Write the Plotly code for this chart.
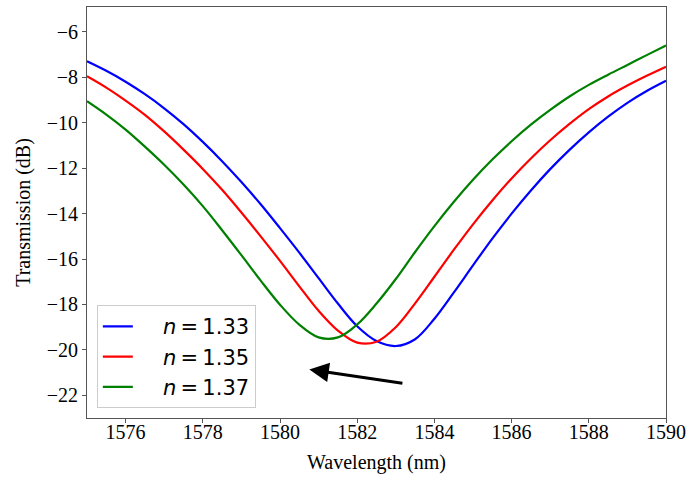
import plotly.graph_objects as go

# Wavelength grid (nm)
wavelength = [1575.0 + 0.5 * i for i in range(31)]

# Transmission spectra (dB) for three surrounding refractive indices
t_133 = [-7.29, -7.71, -8.19, -8.74, -9.36, -10.06, -10.84, -11.69, -12.61, -13.59,
         -14.64, -15.72, -16.84, -17.96, -18.96, -19.61, -19.83, -19.53, -18.63, -17.48,
         -16.28, -15.10, -14.00, -12.98, -12.04, -11.19, -10.42, -9.73, -9.12, -8.60, -8.15]
t_135 = [-7.95, -8.45, -9.02, -9.65, -10.38, -11.18, -12.03, -12.95, -13.95, -15.00,
         -16.08, -17.20, -18.28, -19.15, -19.68, -19.64, -19.00, -17.95, -16.78, -15.60,
         -14.47, -13.42, -12.45, -11.57, -10.77, -10.05, -9.40, -8.84, -8.36, -7.93, -7.53]
t_137 = [-9.05, -9.64, -10.30, -11.05, -11.85, -12.72, -13.67, -14.73, -15.83, -16.95,
         -18.01, -18.89, -19.45, -19.45, -18.88, -17.96, -16.88, -15.69, -14.55, -13.49,
         -12.51, -11.62, -10.81, -10.08, -9.43, -8.84, -8.33, -7.88, -7.45, -7.02, -6.60]

index_labels = ["1.33", "1.35", "1.37"]
colors = ["#0000ff", "#ff0000", "#008000"]
spectra = [t_133, t_135, t_137]

x_ticks = [1576, 1578, 1580, 1582, 1584, 1586, 1588, 1590]
y_ticks = [-22, -20, -18, -16, -14, -12, -10, -8, -6]

# Shift arrow (tail -> head), in data units
arrow_tail = (1583.21, -21.48)
arrow_head = (1580.76, -20.86)

fig = go.Figure()
for label, vals, color in zip(index_labels, spectra, colors):
    fig.add_trace(go.Scatter(
        x=wavelength, y=vals, mode="lines",
        name="\u2003\u2009<i>n</i>\u2009=\u2009" + label,
        line=dict(color=color, width=2.2, shape="spline", smoothing=1.0),
    ))

serif = "Liberation Serif, Times New Roman, serif"
axis_common = dict(
    showline=True, linecolor="#555555", linewidth=1, mirror=True,
    ticks="outside", ticklen=4, tickcolor="#555555", showgrid=False, zeroline=False,
    tickfont=dict(family=serif, size=20, color="black"),
    automargin=False,
)

fig.update_layout(
    width=689, height=479,
    margin=dict(l=87, r=23, t=7, b=61),
    paper_bgcolor="white", plot_bgcolor="white",
    xaxis=dict(range=[1575, 1590], tickvals=x_ticks,
               ticktext=[str(v) for v in x_ticks],
               ticklabelposition="outside", ticklabelstandoff=-8,
               title=dict(text="Wavelength (nm)", font=dict(family=serif, size=20, color="black"),
                          standoff=12),
               **axis_common),
    yaxis=dict(range=[-23, -4.9], tickvals=y_ticks,
               ticktext=["\u2212" + str(abs(v)) for v in y_ticks],
               title=dict(text="Transmission (dB)", font=dict(family=serif, size=20, color="black"),
                          standoff=10),
               **axis_common),
    legend=dict(
        x=0.017, y=0.024, xanchor="left", yanchor="bottom",
        bgcolor="rgba(255,255,255,0.9)", bordercolor="#cccccc", borderwidth=1,
        font=dict(family="DejaVu Sans", size=21, color="black"),
        tracegroupgap=0,
    ),
    showlegend=True,
)

fig.add_annotation(
    x=arrow_head[0], y=arrow_head[1], ax=arrow_tail[0], ay=arrow_tail[1],
    xref="x", yref="y", axref="x", ayref="y",
    showarrow=True, arrowhead=2, arrowsize=1.3, arrowwidth=3, arrowcolor="black", text="",
)

fig.write_html("out.html")
